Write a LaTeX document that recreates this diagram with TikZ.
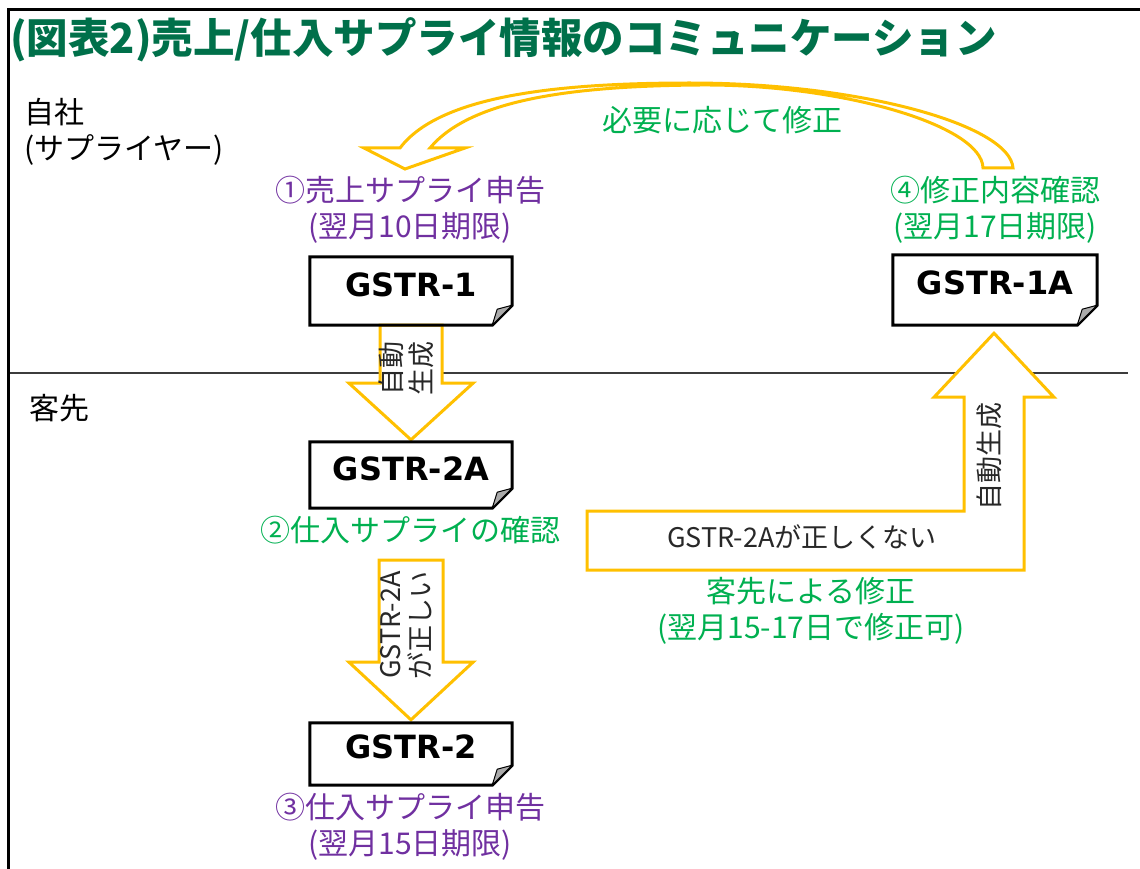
\documentclass[tikz,border=0pt]{standalone}
\usepackage{fontspec}
\setmainfont{Noto Sans CJK JP}
\newfontfamily\docfont{DejaVu Sans}
\usetikzlibrary{calc}
\definecolor{titlegreen}{RGB}{0,112,74}
\definecolor{lgreen}{RGB}{0,176,80}
\definecolor{lpurple}{RGB}{112,48,160}
\definecolor{arrowgold}{RGB}{255,192,0}
\definecolor{darktext}{RGB}{40,40,40}
\definecolor{foldgray}{RGB}{170,170,170}
\tikzset{
  blk/.style={draw=arrowgold, line width=3pt, fill=white, line join=miter},
  docnode/.style={inner sep=0pt, font=\docfont\bfseries\fontsize{32}{36}\selectfont},
  docline/.style={draw=black, line width=3pt, line join=miter},
  fold/.style={fill=foldgray, draw=black, line width=1pt, line join=round},
  lbl/.style={inner sep=0pt, align=center, font=\fontsize{30}{36}\selectfont},
  arrlbl/.style={inner sep=0pt, align=center, text=darktext, font=\fontsize{27}{30}\selectfont},
}
\newcommand\docbox[1]{%
  \draw[docline] (#1.north west) -- (#1.north east) -- ($(#1.south east)+(0,-20)$)
     -- ($(#1.south east)+(-20,0)$) -- (#1.south west) -- cycle;
  \filldraw[fold] ($(#1.south east)+(-20,0)$) -- ($(#1.south east)+(-15,-16)$)
     -- ($(#1.south east)+(0,-20)$) -- cycle;}
\begin{document}
\begin{tikzpicture}[x=1pt,y=-1pt]
\useasboundingbox (0,0) rectangle (1140,869);
% frame
\coordinate (fb) at (8,869);
\coordinate (ftl) at (8,10);
\coordinate (fr) at (1140,10);
\draw[line width=3pt] (fb) -- (ftl) -- (fr);
% divider
\coordinate (dl) at (10,373);
\coordinate (dr) at (1128,373);
\draw[line width=1.5pt, draw={rgb,255:red,60;green,60;blue,60}] (dl) -- (dr);
% title
\node[anchor=west, inner sep=0pt, text=titlegreen, font=\bfseries\fontsize{41.5}{48}\selectfont] (title) at (10,40) {(図表2)売上/仕入サプライ情報のコミュニケーション};
% side labels
\node[lbl, anchor=west, align=left] (jisha) at (24,132) {自社\\(サプライヤー)};
\node[lbl, anchor=west] (kyaku) at (29,408) {客先};
% document nodes (outlines drawn later)
\node[docnode, minimum width=202pt, minimum height=68pt] (g1) at (411,291) {\raisebox{12pt}{GSTR-1}};
\node[docnode, minimum width=204pt, minimum height=70pt] (g1a) at (995,290) {\raisebox{14pt}{GSTR-1A}};
\node[docnode, minimum width=202pt, minimum height=66pt] (g2a) at (411,475) {\raisebox{13pt}{GSTR-2A}};
\node[docnode, minimum width=202pt, minimum height=62pt] (g2) at (411,754) {\raisebox{14pt}{GSTR-2}};
% block arrow GSTR-1 -> GSTR-2A
\draw[blk] ($(g1.south)+(-31,0)$) -- ($(g1.south)+(31,0)$) -- ($(g1.south)+(31,58)$)
  -- ($(g1.south)+(62,58)$) -- ($(g2a.north)+(0,-2)$) -- ($(g1.south)+(-62,58)$)
  -- ($(g1.south)+(-31,58)$) -- cycle;
% block arrow GSTR-2A -> GSTR-2
\draw[blk] ($(g2a.south)+(-32,52)$) -- ($(g2a.south)+(32,52)$) -- ($(g2a.south)+(32,154)$)
  -- ($(g2a.south)+(62,154)$) -- ($(g2.north)+(0,-3)$) -- ($(g2a.south)+(-62,154)$)
  -- ($(g2a.south)+(-32,154)$) -- cycle;
% L-shaped block arrow to GSTR-1A
\coordinate (lt) at ($(g1a.south)+(-1,8)$);
\draw[blk] ($(lt)+(-407,178)$) -- ($(lt)+(-30,178)$) -- ($(lt)+(-30,64)$) -- ($(lt)+(-60,64)$)
  -- (lt) -- ($(lt)+(60,64)$) -- ($(lt)+(30,64)$) -- ($(lt)+(30,237)$)
  -- ($(lt)+(-407,237)$) -- cycle;
% curved arrow GSTR-1A -> GSTR-1
\coordinate (cto) at (1013,168);
\coordinate (cti) at (983,168);
\coordinate (cho) at (400,148);
\coordinate (chi) at (430,148);
\coordinate (chl) at (364,148);
\coordinate (chr) at (465,148);
\coordinate (ctip) at (405,169);
\draw[blk] (cho) .. controls (440,95) and (560,83) .. (690,83)
  .. controls (860,83) and (1010,125) .. (cto) -- (cti)
  .. controls (982,125) and (840,84) .. (700,85)
  .. controls (570,86) and (470,100) .. (chi) -- (chr) -- (ctip) -- (chl) -- cycle;
% document outlines
\docbox{g1}
\docbox{g1a}
\docbox{g2a}
\docbox{g2}
% labels
\node[lbl, text=lpurple] (l1) at (410,210) {①売上サプライ申告\\(翌月10日期限)};
\node[lbl, text=lgreen] (l4) at (995,210) {④修正内容確認\\(翌月17日期限)};
\node[lbl, text=lgreen] (l2) at (410,530) {②仕入サプライの確認};
\node[lbl, text=lpurple] (l3) at (410,827) {③仕入サプライ申告\\(翌月15日期限)};
\node[lbl, text=lgreen] (lc) at (811,611) {客先による修正\\(翌月15-17日で修正可)};
\node[lbl, text=lgreen] (lm) at (722,120) {必要に応じて修正};
\node[arrlbl] (ln) at (802,537) {GSTR-2Aが正しくない};
\node[arrlbl, rotate=90] (a1) at (406,368) {自動\\生成};
\node[arrlbl, rotate=90] (a2) at (406,625) {GSTR-2A\\が正しい};
\node[arrlbl, rotate=90] (a3) at (989,456) {自動生成};
\end{tikzpicture}
\end{document}
